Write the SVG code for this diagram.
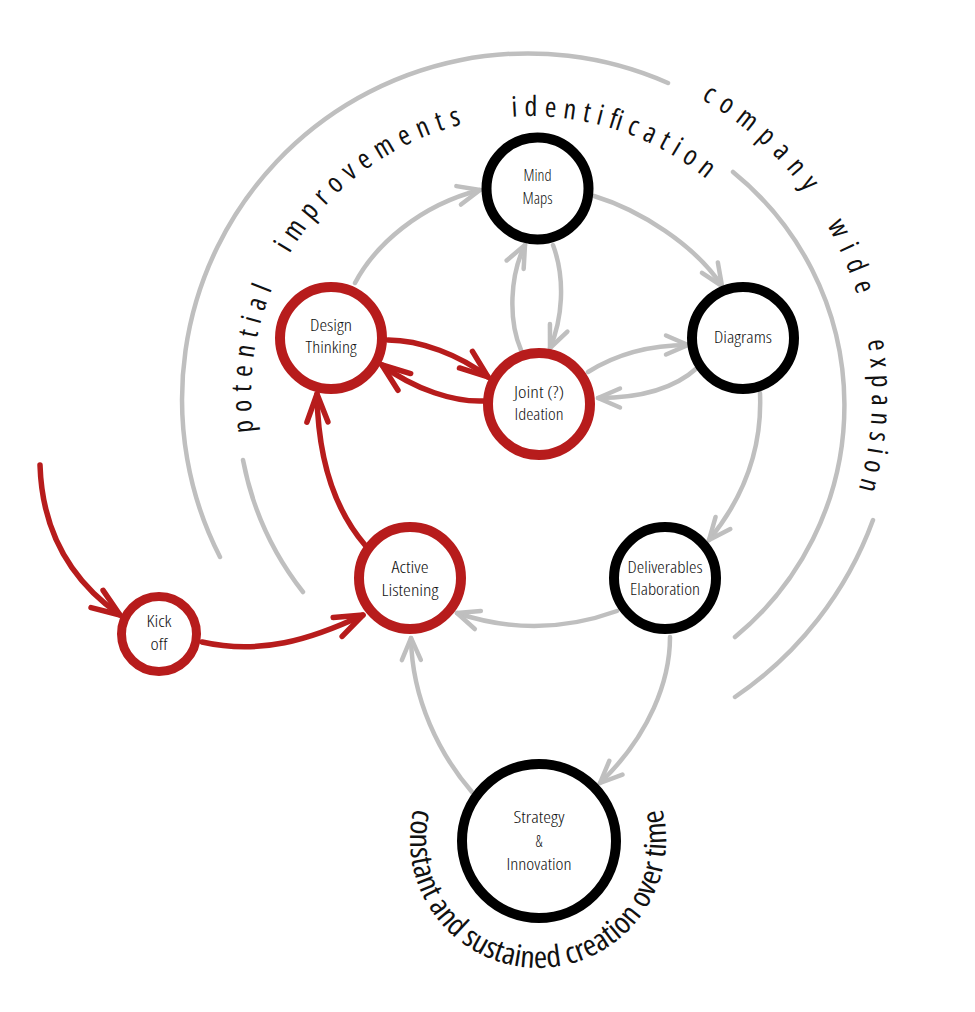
<svg xmlns="http://www.w3.org/2000/svg" xmlns:xlink="http://www.w3.org/1999/xlink" width="975" height="1012" viewBox="0 0 975 1012">
<style>
  .bg { fill: #ffffff; }
  .nb { fill: #ffffff; stroke: #000000; stroke-width: 10; }
  .nr { fill: #ffffff; stroke: #b71c1c; stroke-width: 10; }
  .lbl { font-family: "Open Sans", "Liberation Sans Narrow", "DejaVu Sans Condensed", sans-serif; font-stretch: 75%; font-weight: 300; font-size: 16.5px; fill: #111111; text-anchor: middle; }
  .cg { fill: none; stroke: #bfbfbf; stroke-width: 4.5; stroke-linecap: round; }
  .cr { fill: none; stroke: #b71c1c; stroke-width: 5.5; stroke-linecap: round; }
  .arc { fill: none; stroke: #bfbfbf; stroke-width: 4.5; stroke-linecap: round; }
  .ct { font-family: "Open Sans", "Liberation Sans Narrow", "DejaVu Sans Condensed", sans-serif; font-stretch: 75%; font-weight: 400; font-size: 28px; fill: #111111; }
  .bt { font-family: "Open Sans", "Liberation Sans Narrow", "DejaVu Sans Condensed", sans-serif; font-stretch: 75%; font-weight: 400; font-size: 30px; fill: #111111; }
</style>
<defs>
  <marker id="ag" markerUnits="userSpaceOnUse" markerWidth="40" markerHeight="40" viewBox="-30 -20 40 40" refX="0" refY="0" orient="auto" overflow="visible">
    <path d="M-22,-9.5 L0,0 L-22,9.5" fill="none" stroke="#bfbfbf" stroke-width="4.5" stroke-linecap="round" stroke-linejoin="round"/>
  </marker>
  <marker id="ar" markerUnits="userSpaceOnUse" markerWidth="44" markerHeight="44" viewBox="-34 -22 44 44" refX="0" refY="0" orient="auto" overflow="visible">
    <path d="M-28,-10.5 L0,0 L-28,10.5" fill="none" stroke="#b71c1c" stroke-width="5.5" stroke-linecap="round" stroke-linejoin="round"/>
  </marker>
  <path id="innerPath" d="M260.5,467.2 A279,279 0 0,1 743.7,215.7"/>
  <path id="outerPath" d="M647,73.6 A342,342 0 0,1 840,539.5"/>
  <path id="bottomPath" d="M417.7,796.2 A128,128 0 1,0 658.3,796.2"/>
</defs>
<rect class="bg" x="0" y="0" width="975" height="1012"/>

<g id="spiral-arcs">
  <path class="arc" d="M220,557 A346,346 0 0,1 668,83"/>
  <path class="arc" d="M243,460 A307,307 0 0,0 303,592"/>
  <path class="arc" d="M733,172 A300,300 0 0,1 735,637"/>
  <path class="arc" d="M873,520 A365,365 0 0,1 735,697"/>
</g>

<g id="spiral-text">
  <text class="ct"><textPath xlink:href="#innerPath" href="#innerPath" startOffset="36" textLength="146" lengthAdjust="spacing">potential</textPath></text>
  <text class="ct"><textPath xlink:href="#innerPath" href="#innerPath" startOffset="221" textLength="221" lengthAdjust="spacing">improvements</textPath></text>
  <text class="ct"><textPath xlink:href="#innerPath" href="#innerPath" startOffset="493" textLength="209" lengthAdjust="spacing">identification</textPath></text>
  <text class="ct"><textPath xlink:href="#outerPath" href="#outerPath" startOffset="60" textLength="141" lengthAdjust="spacing">company</textPath></text>
  <text class="ct"><textPath xlink:href="#outerPath" href="#outerPath" startOffset="240" textLength="76" lengthAdjust="spacing">wide</textPath></text>
  <text class="ct"><textPath xlink:href="#outerPath" href="#outerPath" startOffset="363" textLength="150" lengthAdjust="spacing">expansion</textPath></text>
  <text class="bt"><textPath xlink:href="#bottomPath" href="#bottomPath" startOffset="13" textLength="465" lengthAdjust="spacingAndGlyphs">constant and sustained creation over time</textPath></text>
</g>

<g id="connectors">
  <path class="cg" marker-end="url(#ag)" d="M355,283 C375,245 420,205 480,190"/>
  <path class="cg" marker-end="url(#ag)" d="M594,196 C640,210 695,245 722,286"/>
  <path class="cg" marker-end="url(#ag)" d="M521,350 C508,320 510,275 525,245"/>
  <path class="cg" marker-end="url(#ag)" d="M553,245 C566,280 562,320 550,348"/>
  <path class="cg" marker-end="url(#ag)" d="M588,372 C615,355 650,345 688,345"/>
  <path class="cg" marker-end="url(#ag)" d="M697,368 C675,388 640,398 598,398"/>
  <path class="cg" marker-end="url(#ag)" d="M760,393 C762,440 750,490 709,540"/>
  <path class="cg" marker-end="url(#ag)" d="M617,611 Q537,640 457,613"/>
  <path class="cg" marker-end="url(#ag)" d="M670,637 C670,680 650,735 600,783"/>
  <path class="cg" marker-end="url(#ag)" d="M472,792 C440,755 412,700 411,638"/>
  <path class="cr" marker-end="url(#ar)" d="M40,465 C42,530 70,580 120,615"/>
  <path class="cr" marker-end="url(#ar)" d="M202,642 C260,655 310,640 363,615"/>
  <path class="cr" marker-end="url(#ar)" d="M365,545 C335,510 318,460 317,394"/>
  <path class="cr" marker-end="url(#ar)" d="M388,340 C420,340 460,355 488,377"/>
  <path class="cr" marker-end="url(#ar)" d="M483,401 C455,402 415,390 382,365"/>
</g>

<g id="node-mind-maps">
  <circle class="nb" cx="537.5" cy="188.5" r="51"/>
  <text class="lbl" x="537.5" y="181" textLength="28" lengthAdjust="spacingAndGlyphs">Mind</text>
  <text class="lbl" x="537.5" y="204" textLength="30" lengthAdjust="spacingAndGlyphs">Maps</text>
</g>
<g id="node-design-thinking">
  <circle class="nr" cx="331" cy="338" r="51"/>
  <text class="lbl" x="331" y="331" textLength="42" lengthAdjust="spacingAndGlyphs">Design</text>
  <text class="lbl" x="331" y="353" textLength="51" lengthAdjust="spacingAndGlyphs">Thinking</text>
</g>
<g id="node-joint-ideation">
  <circle class="nr" cx="539" cy="404" r="51"/>
  <text class="lbl" x="539" y="398" textLength="50" lengthAdjust="spacingAndGlyphs">Joint (?)</text>
  <text class="lbl" x="539" y="420" textLength="49" lengthAdjust="spacingAndGlyphs">Ideation</text>
</g>
<g id="node-diagrams">
  <circle class="nb" cx="743" cy="338" r="51"/>
  <text class="lbl" x="743" y="343" textLength="58" lengthAdjust="spacingAndGlyphs">Diagrams</text>
</g>
<g id="node-deliverables">
  <circle class="nb" cx="665" cy="578" r="51"/>
  <text class="lbl" x="665" y="573" textLength="75" lengthAdjust="spacingAndGlyphs">Deliverables</text>
  <text class="lbl" x="665" y="595" textLength="70" lengthAdjust="spacingAndGlyphs">Elaboration</text>
</g>
<g id="node-active-listening">
  <circle class="nr" cx="410" cy="578" r="51"/>
  <text class="lbl" x="410" y="573" textLength="37" lengthAdjust="spacingAndGlyphs">Active</text>
  <text class="lbl" x="410" y="596" textLength="57" lengthAdjust="spacingAndGlyphs">Listening</text>
</g>
<g id="node-kick-off">
  <circle class="nr" cx="159" cy="634" r="37.5" style="stroke-width:9"/>
  <text class="lbl" x="159" y="627" textLength="25" lengthAdjust="spacingAndGlyphs">Kick</text>
  <text class="lbl" x="159" y="650" textLength="17" lengthAdjust="spacingAndGlyphs">off</text>
</g>
<g id="node-strategy-innovation">
  <circle class="nb" cx="539" cy="841" r="77"/>
  <text class="lbl" x="539" y="823" textLength="51" lengthAdjust="spacingAndGlyphs">Strategy</text>
  <text class="lbl" x="539" y="847">&amp;</text>
  <text class="lbl" x="539" y="870" textLength="65" lengthAdjust="spacingAndGlyphs">Innovation</text>
</g>
</svg>
